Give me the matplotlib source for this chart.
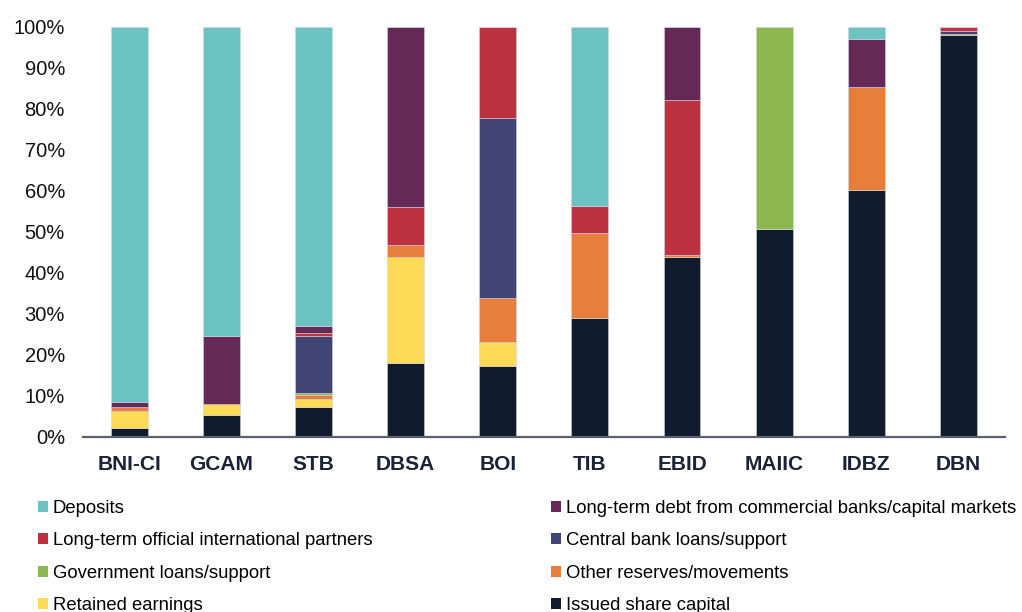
import numpy as np
import matplotlib
matplotlib.use("Agg")
from matplotlib import pyplot as plt
from matplotlib.patches import Patch

plt.rcParams['font.family'] = ['Liberation Sans', 'DejaVu Sans']

banks = ['BNI-CI', 'GCAM', 'STB', 'DBSA', 'BOI', 'TIB', 'EBID', 'MAIIC', 'IDBZ', 'DBN']

# shares in %, bottom to top
issued_share = [2.3, 5.3, 7.4, 18.0, 17.4, 29.0, 43.9, 50.7, 60.2, 98.0]
retained = [4.0, 2.7, 1.8, 25.8, 5.8, 0.0, 0.0, 0.0, 0.0, 0.0]
other_reserves = [1.0, 0.0, 1.0, 3.0, 10.6, 20.8, 0.5, 0.0, 25.2, 0.2]
government = [0.0, 0.0, 0.5, 0.0, 0.0, 0.0, 0.0, 49.3, 0.0, 0.0]
central_bank = [0.0, 0.0, 13.9, 0.0, 44.0, 0.0, 0.0, 0.0, 0.0, 0.8]
lt_international = [0.0, 0.0, 0.8, 9.2, 22.2, 6.5, 37.8, 0.0, 0.0, 1.0]
lt_debt = [1.2, 16.7, 1.7, 44.0, 0.0, 0.0, 17.8, 0.0, 11.7, 0.0]
deposits = [91.5, 75.3, 72.9, 0.0, 0.0, 43.7, 0.0, 0.0, 2.9, 0.0]

series = [
    ('Issued share capital', issued_share, '#101b2e'),
    ('Retained earnings', retained, '#fddb57'),
    ('Other reserves/movements', other_reserves, '#e87e3b'),
    ('Government loans/support', government, '#8db850'),
    ('Central bank loans/support', central_bank, '#3f4472'),
    ('Long-term official international partners', lt_international, '#be3141'),
    ('Long-term debt from commercial banks/capital markets', lt_debt, '#662957'),
    ('Deposits', deposits, '#6cc3c1'),
]

fig = plt.figure(figsize=(10.22, 6.12), dpi=100)
ax = fig.add_axes([0.0812, 0.286, 0.9018, 0.670])

x = np.arange(len(banks))
bottom = np.zeros(len(banks))
colors = {}
for name, vals, col in series:
    vals = np.array(vals)
    ax.bar(x, vals, 0.4, bottom=bottom, color=col, edgecolor='#d0d4dc', linewidth=0.4)
    bottom += vals
    colors[name] = col

ax.set_xlim(-0.5, len(banks) - 0.5)
ax.set_ylim(0, 100)
ax.set_yticks(np.arange(0, 101, 10))
ax.set_yticklabels([f'{v}%' for v in range(0, 101, 10)], fontsize=14.5, color='#111111')
ax.set_xticks(x)
ax.set_xticklabels(banks, fontsize=15, fontweight='bold', color='#1a2233')
ax.tick_params(axis='both', length=0)
ax.tick_params(axis='x', pad=13)
ax.tick_params(axis='y', pad=13)
for s in ['top', 'right', 'left']:
    ax.spines[s].set_visible(False)
ax.spines['bottom'].set_color('#5a6070')
ax.spines['bottom'].set_linewidth(1.6)

col1 = ['Deposits', 'Long-term official international partners', 'Government loans/support', 'Retained earnings']
col2 = ['Long-term debt from commercial banks/capital markets', 'Central bank loans/support',
        'Other reserves/movements', 'Issued share capital']

for names, xpos in [(col1, 0.037), (col2, 0.539)]:
    handles = [Patch(facecolor=colors[n], edgecolor='none') for n in names]
    fig.legend(handles, names, loc='upper left', bbox_to_anchor=(xpos, 0.183),
               frameon=False, fontsize=13.3, handlelength=0.55, handleheight=0.55,
               handletextpad=0.25, labelspacing=0.83, borderpad=0, borderaxespad=0)

fig.savefig('out.png', dpi=100)
